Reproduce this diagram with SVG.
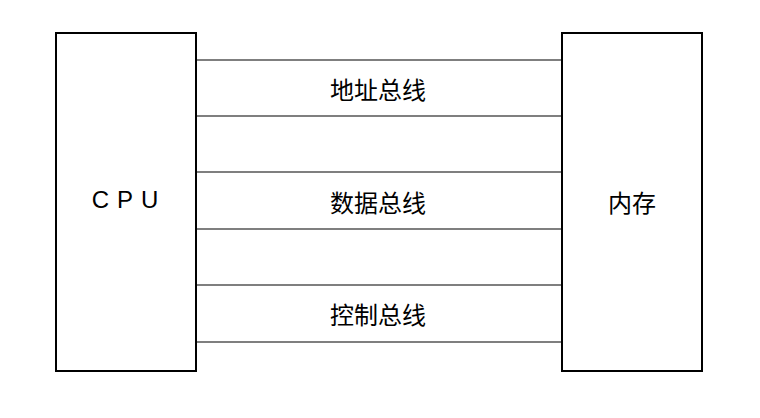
<svg xmlns="http://www.w3.org/2000/svg" width="760" height="418" viewBox="0 0 760 418">
<style>
.box{fill:#fff;stroke:#000;stroke-width:2}
.bus{stroke:#000;stroke-width:1.2}
text{font-family:"Noto Sans CJK SC","Liberation Sans",sans-serif;font-size:24px;fill:#000;text-anchor:middle;dominant-baseline:central}
</style>
<rect width="760" height="418" fill="#fff"/>
<g id="cpu"><rect class="box" x="56" y="33" width="140" height="338"/><text x="129" y="199" style="font-family:'Liberation Sans',sans-serif;letter-spacing:8px">CPU</text></g>
<g id="mem"><rect class="box" x="562" y="33" width="140" height="338"/><text x="632" y="201">内存</text></g>
<g id="connectors">
<line class="bus" x1="196" y1="60" x2="562" y2="60"/><line class="bus" x1="196" y1="116" x2="562" y2="116"/>
<line class="bus" x1="196" y1="172" x2="562" y2="172"/><line class="bus" x1="196" y1="229" x2="562" y2="229"/>
<line class="bus" x1="196" y1="285" x2="562" y2="285"/><line class="bus" x1="196" y1="342" x2="562" y2="342"/>
</g>
<g id="labels"><text x="378" y="88">地址总线</text><text x="378" y="201">数据总线</text><text x="378" y="313">控制总线</text></g>
</svg>
